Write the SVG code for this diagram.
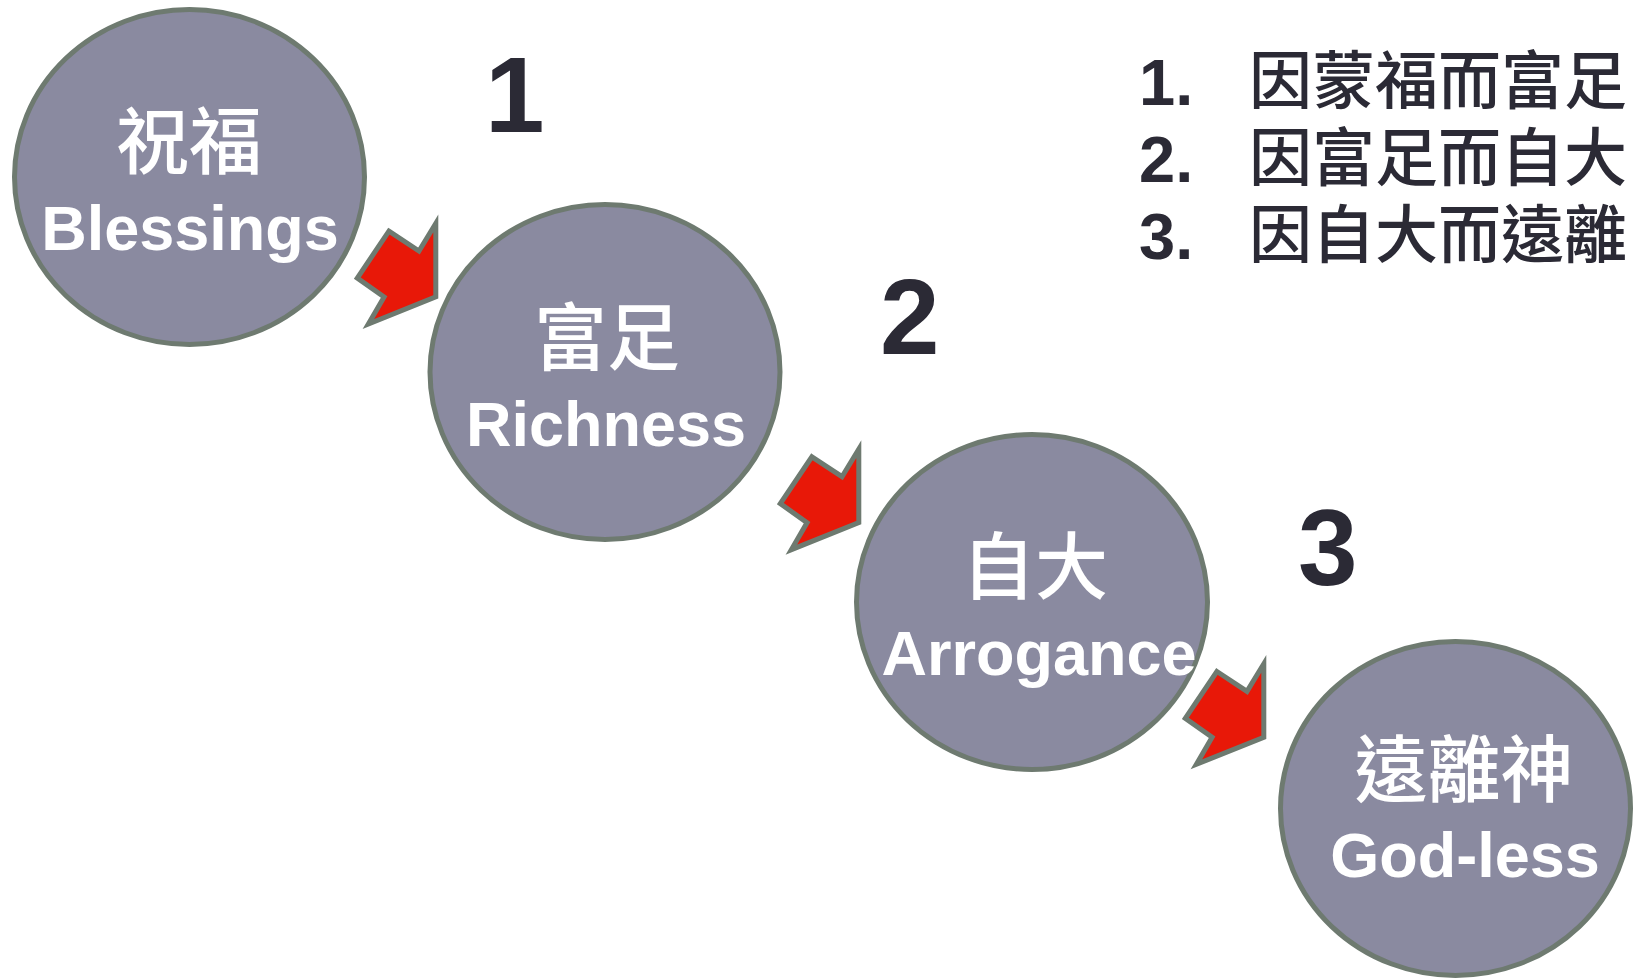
<svg xmlns="http://www.w3.org/2000/svg" width="1635" height="978" viewBox="0 0 1635 978">
<style>
.node{fill:#8A8AA0;stroke:#6E7A70;stroke-width:5}
.cjk{font-family:"Noto Sans CJK TC","Noto Sans CJK SC",sans-serif;font-weight:500;font-size:73px;fill:#FFFFFF;text-anchor:middle}
.en{font-family:"Liberation Sans",Arial,sans-serif;font-weight:bold;font-size:63px;fill:#FFFFFF;text-anchor:middle}
.num{font-family:"Liberation Sans",Arial,sans-serif;font-weight:bold;font-size:107px;fill:#2B2A35}
.lnum{font-family:"Liberation Sans",Arial,sans-serif;font-weight:bold;font-size:65px;fill:#2B2A35}
.lcjk{font-family:"Noto Sans CJK TC","Noto Sans CJK SC",sans-serif;font-weight:500;font-size:63px;fill:#2B2A35}
.arrow{fill:#E81808;stroke:#6E7A70;stroke-width:5;stroke-linejoin:miter;stroke-miterlimit:10}
</style>
<defs>
<path id="arr" d="M388.9,231.2 L419,251.1 L435.8,223.5 L435.8,296.9 L368.4,324 L384.1,297 L357.3,278 Z"/>
</defs>
<rect x="0" y="0" width="1635" height="978" fill="#FFFFFF"/>
<g id="connectors">
<use href="#arr" class="arrow"/>
<use href="#arr" class="arrow" transform="translate(423,225.6)"/>
<use href="#arr" class="arrow" transform="translate(828,440.3)"/>
</g>
<g id="node-blessings">
<ellipse class="node" cx="189.5" cy="177" rx="175" ry="167.5"/>
<text class="cjk" x="189" y="168">祝福</text>
<text class="en" x="190" y="250">Blessings</text>
</g>
<g id="node-richness">
<ellipse class="node" cx="605" cy="372" rx="175" ry="167.5"/>
<text class="cjk" x="607" y="364">富足</text>
<text class="en" x="606" y="446">Richness</text>
</g>
<g id="node-arrogance">
<ellipse class="node" cx="1032" cy="602" rx="175.5" ry="167.5"/>
<text class="cjk" x="1035" y="593">自大</text>
<text class="en" x="1039" y="675">Arrogance</text>
</g>
<g id="node-godless">
<ellipse class="node" cx="1455.5" cy="808.5" rx="175" ry="167"/>
<text class="cjk" x="1464" y="796">遠離神</text>
<text class="en" x="1465" y="877">God-less</text>
</g>
<g id="step-numbers">
<text class="num" x="485" y="132">1</text>
<text class="num" x="880" y="354">2</text>
<text class="num" x="1298" y="585">3</text>
</g>
<g id="legend">
<text class="lnum" x="1139" y="105">1.</text>
<text class="lcjk" x="1249" y="103">因蒙福而富足</text>
<text class="lnum" x="1139" y="182">2.</text>
<text class="lcjk" x="1249" y="180">因富足而自大</text>
<text class="lnum" x="1139" y="259">3.</text>
<text class="lcjk" x="1249" y="257">因自大而遠離</text>
</g>
</svg>
